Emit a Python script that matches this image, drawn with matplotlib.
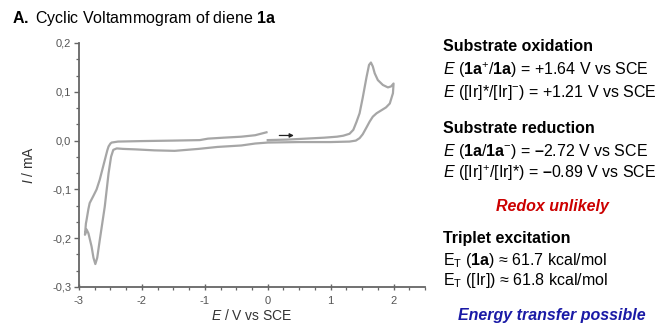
import matplotlib
matplotlib.use("Agg")
import matplotlib.pyplot as plt
from matplotlib.ticker import MultipleLocator, FuncFormatter, AutoMinorLocator

# ---- data ----
# forward anodic scan, 0 V -> 2.0 V
E_fwd = [0.0, 0.3, 0.6, 0.9, 1.1, 1.2, 1.3, 1.36, 1.41, 1.46, 1.51, 1.57, 1.61,
         1.64, 1.67, 1.70, 1.75, 1.83, 1.91, 1.96, 2.0]
I_fwd = [0.001, 0.002, 0.004, 0.006, 0.008, 0.010, 0.014, 0.022, 0.038, 0.056,
         0.088, 0.130, 0.155, 0.160, 0.152, 0.138, 0.124, 0.114, 0.109, 0.111, 0.117]
# reverse scan, 2.0 V -> -2.9 V
E_rev = [1.99, 1.94, 1.88, 1.83, 1.73, 1.67, 1.62, 1.57, 1.51, 1.46, 1.40, 1.3,
         1.0, 0.5, 0.0, -0.2, -0.42, -0.8, -1.1, -1.48, -1.8, -2.1, -2.3, -2.40,
         -2.455, -2.49, -2.53, -2.59, -2.67, -2.71, -2.74, -2.77, -2.80, -2.85,
         -2.88, -2.905]
I_rev = [0.097, 0.076, 0.068, 0.064, 0.056, 0.049, 0.039, 0.027, 0.013, 0.005,
         0.000, -0.002, -0.003, -0.003, -0.004, -0.006, -0.010, -0.013, -0.017,
         -0.021, -0.020, -0.018, -0.017, -0.016, -0.019, -0.033, -0.067, -0.135,
         -0.204, -0.240, -0.253, -0.240, -0.217, -0.190, -0.182, -0.193]
# return scan, -2.9 V -> 0 V
E_ret = [-2.89, -2.88, -2.85, -2.83, -2.77, -2.72, -2.67, -2.63, -2.59, -2.55,
         -2.53, -2.50, -2.48, -2.38, -2.0, -1.5, -1.08, -0.95, -0.7, -0.42, -0.2, -0.02]
I_ret = [-0.170, -0.163, -0.140, -0.128, -0.113, -0.100, -0.080, -0.060, -0.040,
         -0.020, -0.012, -0.006, -0.004, -0.002, -0.001, 0.000, 0.001, 0.004,
         0.006, 0.008, 0.011, 0.017]

x_ticks = [-3, -2, -1, 0, 1, 2]
y_ticks = [-0.3, -0.2, -0.1, 0.0, 0.1, 0.2]

plt.rcParams['font.family'] = ['Liberation Sans', 'DejaVu Sans']
plt.rcParams['axes.unicode_minus'] = False
plt.rcParams['mathtext.fontset'] = 'custom'
plt.rcParams['mathtext.rm'] = 'Liberation Sans'
plt.rcParams['mathtext.it'] = 'Liberation Sans:italic'
plt.rcParams['mathtext.bf'] = 'Liberation Sans:bold'

fig = plt.figure(figsize=(6.61, 3.24), dpi=100)
ax = fig.add_axes([0.1195, 0.1142, 0.5235, 0.7531])

E_all = E_fwd + E_rev + E_ret
I_all = I_fwd + I_rev + I_ret
ax.plot(E_all, I_all, color='#a6a6a6', lw=1.6, solid_joinstyle='round')

ax.annotate('', xy=(0.46, 0.0105), xytext=(0.14, 0.0105),
            arrowprops=dict(arrowstyle='-|>', color='#222222', lw=0.9,
                            mutation_scale=6))

ax.set_xlim(-3, 2.5)
ax.set_ylim(-0.3, 0.2)
ax.set_xticks(x_ticks)
ax.set_yticks(y_ticks)
ax.xaxis.set_minor_locator(AutoMinorLocator(4))
ax.yaxis.set_minor_locator(AutoMinorLocator(3))
ax.xaxis.set_major_formatter(FuncFormatter(lambda v, p: f"{v:.0f}"))
ax.yaxis.set_major_formatter(FuncFormatter(lambda v, p: f"{v:.1f}".replace('.', ',')))

for s in ['top', 'right']:
    ax.spines[s].set_visible(False)
for s in ['left', 'bottom']:
    ax.spines[s].set_color('#666666')
    ax.spines[s].set_linewidth(1.3)

ax.tick_params(axis='x', which='major', direction='inout', length=5, width=1.0,
               color='#666666', labelsize=8, labelcolor='#555555', pad=4)
ax.tick_params(axis='y', which='major', direction='out', length=3.5, width=1.0,
               color='#666666', labelsize=8, labelcolor='#555555', pad=2)
ax.tick_params(which='minor', direction='out', length=2, width=0.9, color='#666666')

ax.set_ylabel(r'$\mathit{I}$ / mA', fontsize=10, color='#333333', labelpad=12)
fig.text(252/661, 1-315.5/324, r'$\mathit{E}$ / V vs SCE', fontsize=10,
         color='#333333', ha='center', va='center')

# title
fig.text(12/661, 1-18/324, r'$\mathbf{A.}$ Cyclic Voltammogram of diene $\mathbf{1a}$',
         fontsize=11.5, va='center', ha='left', color='black')

# right text block
X0 = 443/661
FS = 11.5
def ft(py, s, **kw):
    fig.text(X0, 1-py/324, s, fontsize=FS, va='center', ha='left', color='black', **kw)

ft(46.7, 'Substrate oxidation', fontweight='bold')
ft(70, r'$\mathit{E}$ ($\mathbf{1a}^{+}$/$\mathbf{1a}$) = +1.64 V vs SCE')
ft(92.3, r'$\mathit{E}$ ([Ir]*/[Ir]$^{-}$) = +1.21 V vs SCE')
ft(128.3, 'Substrate reduction', fontweight='bold')
ft(151.7, r'$\mathit{E}$ ($\mathbf{1a}$/$\mathbf{1a}^{-}$) = $\mathbf{–}$2.72 V vs SCE')
ft(173.3, r'$\mathit{E}$ ([Ir]$^{+}$/[Ir]*) = $\mathbf{–}$0.89 V vs SCE')
fig.text(552/661, 1-206/324, 'Redox unlikely', fontsize=FS, fontweight='bold',
         fontstyle='italic', color='#cc0000', ha='center', va='center')
ft(238.3, 'Triplet excitation', fontweight='bold')
ft(260, r'E$_\mathrm{T}$ ($\mathbf{1a}$) ≈ 61.7 kcal/mol')
ft(280.7, r'E$_\mathrm{T}$ ([Ir]) ≈ 61.8 kcal/mol')
fig.text(552/661, 1-315.7/324, 'Energy transfer possible', fontsize=FS, fontweight='bold',
         fontstyle='italic', color='#1a1aa6', ha='center', va='center')

fig.savefig('out.png', dpi=100)
